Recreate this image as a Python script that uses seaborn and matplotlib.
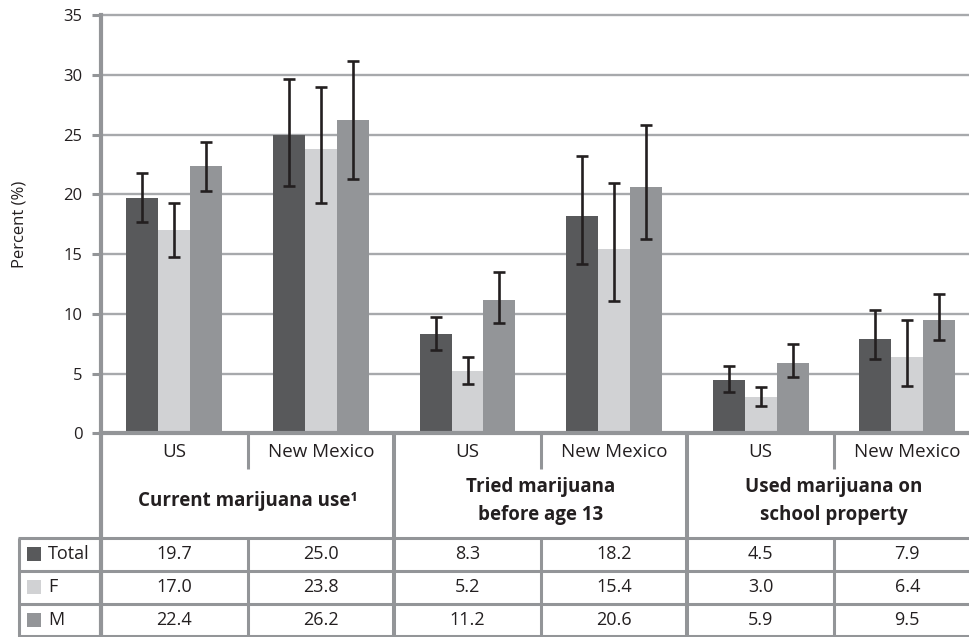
import numpy as np
import pandas as pd
import seaborn as sns
import matplotlib
matplotlib.use("Agg")
import matplotlib.pyplot as plt
from matplotlib.lines import Line2D
from matplotlib.patches import Rectangle
from matplotlib.transforms import blended_transform_factory

# ---- data -------------------------------------------------------------
columns = ["US", "New Mexico", "US", "New Mexico", "US", "New Mexico"]
groups = ["Current marijuana use\u00b9",
          "Tried marijuana\nbefore age 13",
          "Used marijuana on\nschool property"]
series = ["Total", "F", "M"]

total = [19.7, 25.0, 8.3, 18.2, 4.5, 7.9]
female = [17.0, 23.8, 5.2, 15.4, 3.0, 6.4]
male = [22.4, 26.2, 11.2, 20.6, 5.9, 9.5]

# 95% confidence intervals
total_lo = [17.7, 20.7, 7.0, 14.2, 3.5, 6.2]
total_hi = [21.8, 29.7, 9.7, 23.2, 5.6, 10.3]
female_lo = [14.8, 19.3, 4.1, 11.1, 2.3, 4.0]
female_hi = [19.3, 29.0, 6.4, 21.0, 3.9, 9.5]
male_lo = [20.3, 21.3, 9.2, 16.3, 4.7, 7.8]
male_hi = [24.4, 31.2, 13.5, 25.8, 7.5, 11.7]

values = {"Total": total, "F": female, "M": male}
lows = {"Total": total_lo, "F": female_lo, "M": male_lo}
highs = {"Total": total_hi, "F": female_hi, "M": male_hi}
colors = {"Total": "#58595b", "F": "#d1d2d4", "M": "#939598"}

col_ids = [f"c{i}" for i in range(len(columns))]
df = pd.DataFrame([
    {"col": cid, "series": s, "value": values[s][i]}
    for s in series for i, cid in enumerate(col_ids)
])

# ---- figure -----------------------------------------------------------
W, H = 969, 637
sns.set_theme(style="white")
plt.rcParams["font.family"] = ["Open Sans", "DejaVu Sans"]
TXT = "#231f20"
LINE = "#939598"

def fx(px):
    return px / W

def fy(py):
    return 1 - py / H

fig = plt.figure(figsize=(W / 100, H / 100), dpi=100)
y0_px, y35_px = 433.3, 15.3
ax = fig.add_axes([fx(101), fy(y0_px), 1 - fx(101), (y0_px - y35_px) / H])

sns.barplot(data=df, x="col", y="value", hue="series", order=col_ids,
            hue_order=series, palette=colors, width=0.654, errorbar=None,
            legend=False, saturation=1, linewidth=0, ax=ax, zorder=2)

for i, s in enumerate(series):
    bars = ax.containers[i]
    xs = [b.get_x() + b.get_width() / 2 for b in bars]
    v = np.array(values[s])
    err = [v - np.array(lows[s]), np.array(highs[s]) - v]
    ax.errorbar(xs, v, yerr=err, fmt="none", ecolor=TXT, elinewidth=1.9,
                capsize=4, capthick=1.9, zorder=4)

col_w = 146.6
ax.set_xlim(-0.5, -0.5 + (W - 101) / col_w)
ax.set_ylim(0, 35)
ax.set_yticks(range(0, 36, 5))
ax.set_xticks([])
ax.set_xlabel("")
ax.set_ylabel("")
ax.grid(axis="y", color="#a7a9ac", lw=1.7, zorder=0)
ax.set_axisbelow(True)
for gl in ax.get_ygridlines():
    gl.set_clip_on(False)
for side in ["top", "right"]:
    ax.spines[side].set_visible(False)
ax.spines["left"].set_color(LINE)
ax.spines["left"].set_linewidth(3.0)
ax.spines["bottom"].set_color(LINE)
ax.spines["bottom"].set_linewidth(3.0)
ax.spines["bottom"].set_zorder(3)
ax.tick_params(axis="y", direction="out", length=6.5, width=2.2,
               color=LINE, pad=7, labelsize=12, labelcolor=TXT, left=True)

fig.text(fx(20), fy(224), "Percent (%)", rotation=90, ha="center",
         va="center", fontsize=12, color=TXT)

# ---- table under the axis ----------------------------------------------
tb = blended_transform_factory(ax.transData, fig.transFigure)
tf = fig.transFigure

def vline_data(x, ytop, ybot, lw):
    fig.add_artist(Line2D([x, x], [fy(ytop), fy(ybot)], transform=tb,
                          color=LINE, lw=lw, solid_capstyle="butt"))

def hline_fig(y, x0, x1, lw):
    fig.add_artist(Line2D([fx(x0), fx(x1)], [fy(y), fy(y)], transform=tf,
                          color=LINE, lw=lw, solid_capstyle="butt"))

row_a_top, row_a_bot = 433.3, 469
rule_y = [537.5, 570.5, 603.5, 635.5]
row_centers = [554, 587, 620]

# left spine continues down the table
vline_data(-0.5, 433.3, 637, 3.0)
# group dividers
for x in [1.5, 3.5]:
    vline_data(x, 433.3, 637, 2.9)
# dividers between US and New Mexico
for x in [0.5, 2.5, 4.5]:
    vline_data(x, row_a_top, row_a_bot, 2.2)
    vline_data(x, rule_y[0], 637, 2.2)
# horizontal rules of the value rows
for y in rule_y:
    hline_fig(y, 17.5, W, 2.2)
fig.add_artist(Line2D([fx(19), fx(19)], [fy(rule_y[0]), fy(637)],
                      transform=tf, color=LINE, lw=2.2,
                      solid_capstyle="butt"))

for i, lab in enumerate(columns):
    fig.text(i, fy(452), lab, transform=tb, ha="center", va="center",
             fontsize=13.5, color=TXT)

for g, lab in enumerate(groups):
    fig.text(2 * g + 0.5, fy(501), lab, transform=tb, ha="center",
             va="center", fontsize=13.5, fontweight="bold", color=TXT,
             linespacing=1.5)

for r, s in enumerate(series):
    yc = row_centers[r]
    fig.add_artist(Rectangle((fx(27), fy(yc + 7)), fx(14), 14 / H,
                             transform=tf, facecolor=colors[s],
                             edgecolor="none"))
    fig.text(fx(48), fy(yc), s, ha="left", va="center", fontsize=13,
             color=TXT)
    for i, v in enumerate(values[s]):
        fig.text(i, fy(yc), f"{v:.1f}", transform=tb, ha="center",
                 va="center", fontsize=13, color=TXT)

fig.savefig("out.png", dpi=100)
